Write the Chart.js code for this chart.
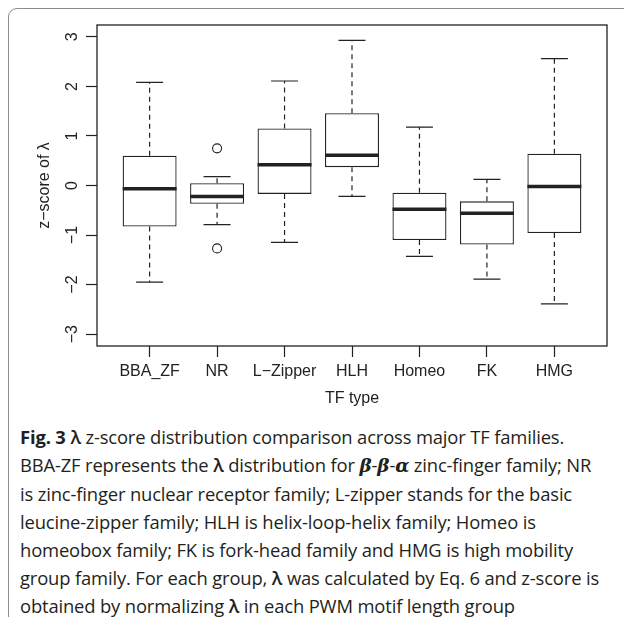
<!DOCTYPE html>
<html>
<head>
<meta charset="utf-8">
<script src="https://cdn.jsdelivr.net/npm/chart.js@4.4.0/dist/chart.umd.min.js"></script>
<style>
  html, body { margin: 0; padding: 0; background: #fff; }
  body { width: 624px; height: 617px; position: relative; overflow: hidden; }
  .frame {
    position: absolute; left: 8px; top: 8px; width: 660px; height: 660px;
    border: 1.3px solid #8c8c8c; border-top-left-radius: 9px; box-sizing: border-box;
  }
  .plot { position: absolute; left: 0; top: 0; width: 624px; height: 410px; }
  .caption {
    position: absolute; left: 20px; top: 423px; white-space: nowrap;
    font-family: 'Open Sans', sans-serif; font-size: 18.4px; line-height: 28px; color: #231f20;
    letter-spacing: -0.15px;
  }
  .caption .sym { font-weight: 600; }
  .caption .greek { font-weight: 600; font-style: italic; font-family: 'DejaVu Serif', serif; }
</style>
</head>
<body>
<div class="frame"></div>
<div class="plot"><canvas id="boxChart"></canvas></div>
<div class="caption">
<b>Fig. 3</b> <span class="sym">λ</span> z-score distribution comparison across major TF families.<br>
BBA-ZF represents the <span class="sym">λ</span> distribution for <span class="greek">β</span>-<span class="greek">β</span>-<span class="greek">α</span> zinc-finger family; NR<br>
is zinc-finger nuclear receptor family; L-zipper stands for the basic<br>
leucine-zipper family; HLH is helix-loop-helix family; Homeo is<br>
homeobox family; FK is fork-head family and HMG is high mobility<br>
group family. For each group, <span class="sym">λ</span> was calculated by Eq. 6 and z-score is<br>
obtained by normalizing <span class="sym">λ</span> in each PWM motif length group
</div>
<script>
// TF families on the x axis
const categories = ['BBA_ZF', 'NR', 'L\u2212Zipper', 'HLH', 'Homeo', 'FK', 'HMG'];

// boxplot statistics
const lowerWhisker = [-1.95, -0.79, -1.15, -0.22, -1.43, -1.89, -2.39];
const q1 = [-0.83, -0.37, -0.17, 0.37, -1.10, -1.19, -0.96];
const median = [-0.065, -0.22, 0.42, 0.61, -0.48, -0.56, -0.02];
const q3 = [0.60, 0.045, 1.15, 1.46, -0.145, -0.32, 0.64];
const upperWhisker = [2.08, 0.18, 2.11, 2.93, 1.18, 0.125, 2.56];

// outliers (only NR has any)
const outlierGroup = ['NR', 'NR'];
const outlierValue = [0.75, -1.27];

const yTicks = [-3, -2, -1, 0, 1, 2, 3];

const xPos = categories.map((c, i) => i + 1);
const ink = '#222';

// whiskers, medians, frame and the rotated y labels
const boxParts = {
  id: 'boxParts',
  afterDatasetsDraw(chart) {
    const { ctx, chartArea, scales: { x, y } } = chart;
    ctx.save();
    ctx.strokeStyle = ink;
    xPos.forEach((p, i) => {
      const cx = x.getPixelForValue(p);
      const hw = x.getPixelForValue(p + 0.4) - cx;
      ctx.lineWidth = 1.2;
      ctx.setLineDash([5, 4]);
      ctx.beginPath();
      ctx.moveTo(cx, y.getPixelForValue(q3[i]));
      ctx.lineTo(cx, y.getPixelForValue(upperWhisker[i]));
      ctx.moveTo(cx, y.getPixelForValue(q1[i]));
      ctx.lineTo(cx, y.getPixelForValue(lowerWhisker[i]));
      ctx.stroke();
      ctx.setLineDash([]);
      ctx.beginPath();
      [upperWhisker[i], lowerWhisker[i]].forEach(v => {
        const py = y.getPixelForValue(v);
        ctx.moveTo(cx - hw / 2, py);
        ctx.lineTo(cx + hw / 2, py);
      });
      ctx.stroke();
      ctx.lineWidth = 3.5;
      ctx.beginPath();
      const my = y.getPixelForValue(median[i]);
      ctx.moveTo(cx - hw, my);
      ctx.lineTo(cx + hw, my);
      ctx.stroke();
    });
    ctx.lineWidth = 1.3;
    ctx.strokeRect(chartArea.left, chartArea.top, chartArea.right - chartArea.left, chartArea.bottom - chartArea.top);

    ctx.fillStyle = ink;
    ctx.font = '16px "Liberation Sans", Arial, sans-serif';
    ctx.textAlign = 'center';
    ctx.textBaseline = 'middle';
    yTicks.forEach(v => {
      ctx.save();
      ctx.translate(73, y.getPixelForValue(v));
      ctx.rotate(-Math.PI / 2);
      ctx.fillText(String(v).replace('-', '\u2212'), 0, 0);
      ctx.restore();
    });
    ctx.restore();
  }
};

const font = { family: '"Liberation Sans", Arial, sans-serif', size: 16 };

new Chart(document.getElementById('boxChart'), {
  type: 'bar',
  data: {
    datasets: [{
      label: 'box',
      data: xPos.map((p, i) => ({ x: p, y: [q1[i], q3[i]] })),
      backgroundColor: '#fff',
      borderColor: ink,
      borderWidth: 1.3,
      borderSkipped: false,
      barPercentage: 0.8,
      categoryPercentage: 1
    }, {
      type: 'scatter',
      label: 'outliers',
      data: outlierValue.map((v, i) => ({ x: categories.indexOf(outlierGroup[i]) + 1, y: v })),
      pointStyle: 'circle',
      pointRadius: 4.5,
      pointBackgroundColor: '#fff',
      pointBorderColor: ink,
      pointBorderWidth: 1.1
    }]
  },
  options: {
    responsive: true,
    maintainAspectRatio: false,
    animation: false,
    layout: { padding: { top: 25, right: 17, left: 0, bottom: 0 } },
    plugins: { legend: { display: false }, tooltip: { enabled: false } },
    scales: {
      x: {
        type: 'linear',
        min: 0.22,
        max: 7.78,
        offset: false,
        afterBuildTicks: s => { s.ticks = xPos.map(v => ({ value: v })); },
        afterFit: s => { s.height = 64; },
        border: { display: false },
        grid: { display: true, offset: false, drawOnChartArea: false, drawTicks: true, tickLength: 11, tickColor: ink, tickWidth: 1.2 },
        ticks: {
          autoSkip: false, maxRotation: 0, padding: 5, color: ink, font,
          callback: (v, i) => categories[i]
        },
        title: { display: true, text: 'TF type', color: ink, font, padding: { top: 0, bottom: 2 } }
      },
      y: {
        min: -3.24,
        max: 3.24,
        afterBuildTicks: s => { s.ticks = yTicks.map(v => ({ value: v })); },
        afterFit: s => { s.width = 97; },
        border: { display: false },
        grid: { display: true, drawOnChartArea: false, drawTicks: true, tickLength: 11, tickColor: ink, tickWidth: 1.2 },
        ticks: { display: false },
        title: { display: true, text: 'z\u2212score of \u03bb', color: ink, font, padding: { top: 35, bottom: 0 } }
      }
    }
  },
  plugins: [boxParts]
});
</script>
</body>
</html>
